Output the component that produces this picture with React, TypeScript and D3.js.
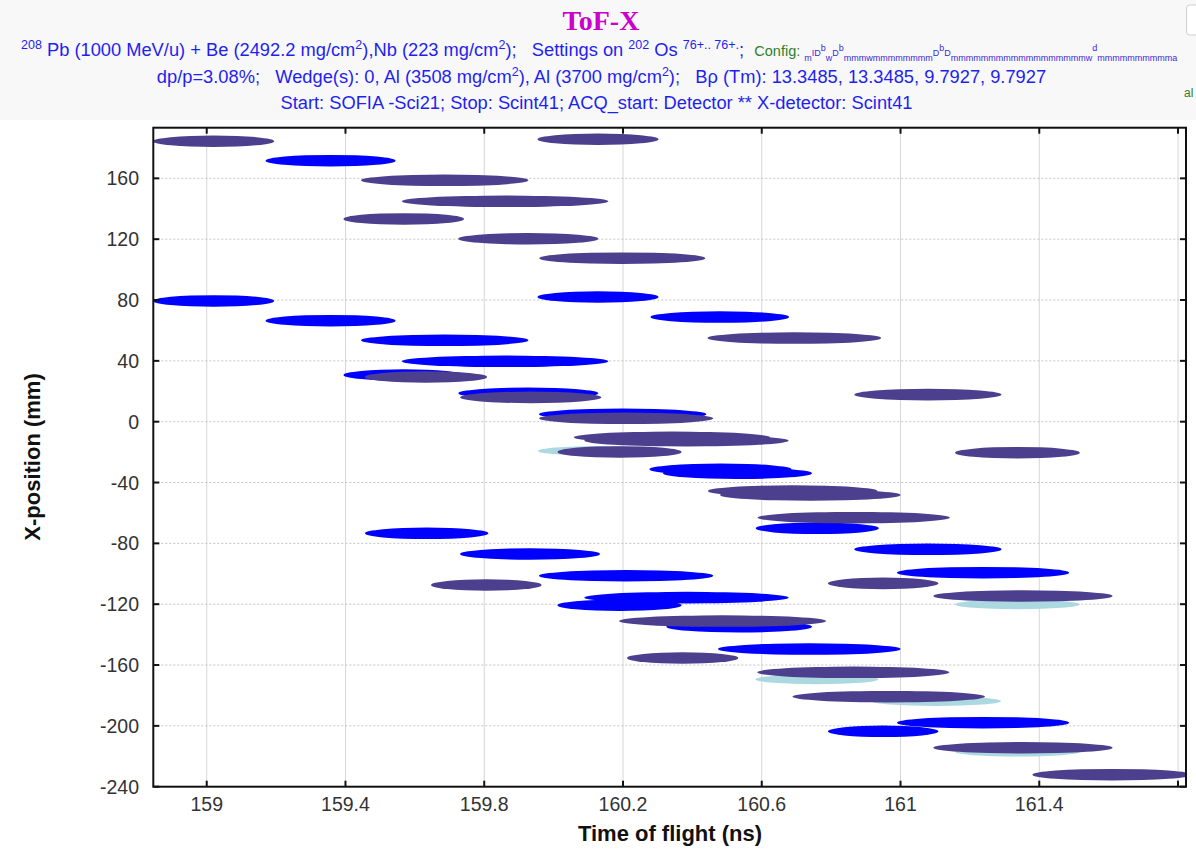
import React from "react";
import * as d3 from "d3";

// ---- data (ToF ns, X mm, width ns) ----
const slateTof = [159.02, 159.686, 159.86, 159.568, 159.927, 160.198, 160.128, 160.694, 159.632, 159.934, 160.209, 160.341, 160.383, 160.19, 161.079, 161.337, 160.689, 160.74, 160.865, 160.95, 161.353, 159.806, 160.487, 160.372, 160.864, 160.966, 161.353, 161.61];
const slateX = [184.4, 158.7, 144.9, 133.3, 120.3, 107.5, 185.7, 55.0, 29.4, 16.0, 2.2, -10.3, -12.5, -19.9, 17.8, -20.4, -45.6, -48.2, -63.1, -106.3, -114.6, -107.4, -131.1, -155.4, -164.8, -180.8, -214.4, -232.1];
const slateSpan = [0.349, 0.483, 0.596, 0.348, 0.404, 0.479, 0.349, 0.501, 0.353, 0.408, 0.503, 0.566, 0.589, 0.358, 0.425, 0.36, 0.489, 0.521, 0.554, 0.319, 0.517, 0.319, 0.597, 0.321, 0.554, 0.555, 0.517, 0.46];

const blueTof = [159.357, 159.02, 159.357, 159.686, 159.86, 159.568, 159.927, 160.199, 160.128, 160.479, 160.481, 160.53, 160.76, 161.079, 161.238, 160.209, 160.383, 160.19, 160.535, 159.634, 159.932, 160.737, 160.95, 161.238];
const blueX = [171.6, 79.4, 66.4, 53.5, 39.7, 30.7, 18.7, 4.9, 82.0, 68.8, -31.3, -33.9, -70.1, -83.9, -99.3, -101.3, -115.7, -120.7, -134.8, -73.4, -87.0, -149.5, -203.6, -197.9];
const blueSpan = [0.375, 0.349, 0.375, 0.483, 0.596, 0.348, 0.404, 0.483, 0.349, 0.4, 0.41, 0.43, 0.355, 0.425, 0.497, 0.503, 0.589, 0.358, 0.42, 0.356, 0.404, 0.527, 0.319, 0.497];

const lightTof = [160.134, 161.337, 160.759, 161.103, 161.337];
const lightX = [-19.2, -120.1, -169.4, -183.7, -217.0];
const lightSpan = [0.358, 0.36, 0.355, 0.374, 0.36];

const xTicks = [159, 159.4, 159.8, 160.2, 160.6, 161, 161.4, 161.8];
const xTickLabels = ["159", "159.4", "159.8", "160.2", "160.6", "161", "161.4", ""];
const yTicks = [160, 120, 80, 40, 0, -40, -80, -120, -160, -200, -240];

const ELL_H = 7.6; // mm full height
const LIGHT_H = 6.4;

const W = 1196, H = 851;
const PL = 153.3, PR = 1186, PT = 127.7, PB = 786.7;

export default function App() {
  const x = d3.scaleLinear().domain([158.846, 161.823]).range([PL, PR]);
  const y = d3.scaleLinear().domain([-240, 193.3]).range([PB, PT]);
  const font = "'Liberation Sans', Arial, sans-serif";
  const hdr = "#1f1ff0";
  const HF = "18.3";

  const ell = (tof: number[], xs: number[], sp: number[], h: number, fill: string, key: string) =>
    tof.map((t, i) => {
      const cx = x(t);
      const rx = (x(t + sp[i] / 2) - x(t - sp[i] / 2)) / 2;
      const cy = y(xs[i]);
      const ry = Math.abs(y(h / 2) - y(0));
      return <ellipse key={key + i} cx={cx} cy={cy} rx={rx} ry={ry} fill={fill} />;
    });

  const sup = (s: string, k: string) => (
    <tspan key={k} baselineShift="super" fontSize="12.5">{s}</tspan>
  );

  return (
    <div style={{ position: "fixed", left: 0, top: 0 }}>
      <svg width={W} height={H} style={{ display: "block", background: "#fff" }}>
        <rect x={0} y={0} width={W} height={120} fill="#f8f8f8" />
        <rect x={1186.5} y={5} width={20} height={30} rx={3} fill="#fff" stroke="#cfcfcf" />
        <text x={601} y={30} textAnchor="middle" fontFamily="'Liberation Serif', 'Times New Roman', serif" fontWeight="bold" fontSize="28" fill="#cc00cc">ToF-X</text>
        <text x={21} y={56} fontFamily={font} fontSize={HF} fill={hdr} style={{ whiteSpace: "pre" }}>
          {sup("208", "a")}
          <tspan> Pb (1000 MeV/u) + Be (2492.2 mg/cm</tspan>
          {sup("2", "b")}
          <tspan>),Nb (223 mg/cm</tspan>
          {sup("2", "c")}
          <tspan>);   Settings on </tspan>
          {sup("202", "d")}
          <tspan> Os </tspan>
          {sup("76+.. 76+.", "e")}
          <tspan>;  </tspan>
          <tspan fill="#2f7f2f" fontSize="14.5">Config: </tspan>
          <tspan fontSize="9" fill="#3a2ad8">
            <tspan baselineShift="sub">m</tspan>ID<tspan baselineShift="super">b</tspan><tspan baselineShift="sub">w</tspan>D<tspan baselineShift="super">b</tspan><tspan baselineShift="sub">mmmwmmmmmmmm</tspan>D<tspan baselineShift="super">b</tspan>D<tspan baselineShift="sub">mmmmmmmmmmmmmmmmmmw</tspan><tspan baselineShift="super">d</tspan><tspan baselineShift="sub">mmmmmmmmmma</tspan>
          </tspan>
        </text>
        <text x={601.5} y={83} textAnchor="middle" fontFamily={font} fontSize={HF} fill={hdr} style={{ whiteSpace: "pre" }}>
          <tspan>dp/p=3.08%;   Wedge(s): 0, Al (3508 mg/cm</tspan>
          {sup("2", "f")}
          <tspan>), Al (3700 mg/cm</tspan>
          {sup("2", "g")}
          <tspan>);   Bρ (Tm): 13.3485, 13.3485, 9.7927, 9.7927</tspan>
        </text>
        <text x={596.5} y={109} textAnchor="middle" fontFamily={font} fontSize={HF} fill={hdr}>
          Start: SOFIA -Sci21; Stop: Scint41; ACQ_start: Detector ** X-detector: Scint41
        </text>
        <text x={1184} y={97} fontFamily={font} fontSize="12" fill="#3b7a1e">al</text>

        <defs>
          <clipPath id="plotclip">
            <rect x={PL} y={PT} width={PR - PL} height={PB - PT} />
          </clipPath>
        </defs>
        <rect x={PL} y={PT} width={PR - PL} height={PB - PT} fill="#fff" />
        {/* grid */}
        {xTicks.map((t) => (
          <line key={"gx" + t} x1={x(t)} x2={x(t)} y1={PT} y2={PB} stroke="#d6d6d6" strokeWidth={1} />
        ))}
        {yTicks.map((t) => (
          <line key={"gy" + t} x1={PL} x2={PR} y1={y(t)} y2={y(t)} stroke="#c4c4c4" strokeWidth={1} strokeDasharray="2,2" />
        ))}
        <g clipPath="url(#plotclip)">
          {ell(lightTof, lightX, lightSpan, LIGHT_H, "#acd8e0", "l")}
          {ell(blueTof, blueX, blueSpan, ELL_H, "#0000ff", "b")}
          {ell(slateTof, slateX, slateSpan, ELL_H, "#4b3f8e", "s")}
        </g>
        {/* frame */}
        <rect x={PL} y={PT} width={PR - PL} height={PB - PT} fill="none" stroke="#111" strokeWidth={2} />
        {/* ticks */}
        {xTicks.map((t) => (
          <g key={"tx" + t}>
            <line x1={x(t)} x2={x(t)} y1={PB} y2={PB - 6} stroke="#111" strokeWidth={2} />
            <line x1={x(t)} x2={x(t)} y1={PT} y2={PT + 6} stroke="#111" strokeWidth={2} />
          </g>
        ))}
        {yTicks.map((t) => (
          <g key={"ty" + t}>
            <line x1={PL} x2={PL + 6} y1={y(t)} y2={y(t)} stroke="#111" strokeWidth={2} />
            <line x1={PR} x2={PR - 6} y1={y(t)} y2={y(t)} stroke="#111" strokeWidth={2} />
          </g>
        ))}
        {xTicks.map((t, i) => (
          <text key={"lx" + t} x={x(t)} y={811} textAnchor="middle" fontFamily={font} fontSize="19.5" fill="#333">{xTickLabels[i]}</text>
        ))}
        {yTicks.map((t) => (
          <text key={"ly" + t} x={139} y={y(t) + 7} textAnchor="end" fontFamily={font} fontSize="19.5" fill="#333">{String(t)}</text>
        ))}
        <text x={670} y={841} textAnchor="middle" fontFamily={font} fontWeight="bold" fontSize="22" fill="#111">Time of flight (ns)</text>
        <text transform={`translate(40,457) rotate(-90)`} textAnchor="middle" fontFamily={font} fontWeight="bold" fontSize="22" fill="#111">X-position (mm)</text>
      </svg>
    </div>
  );
}
